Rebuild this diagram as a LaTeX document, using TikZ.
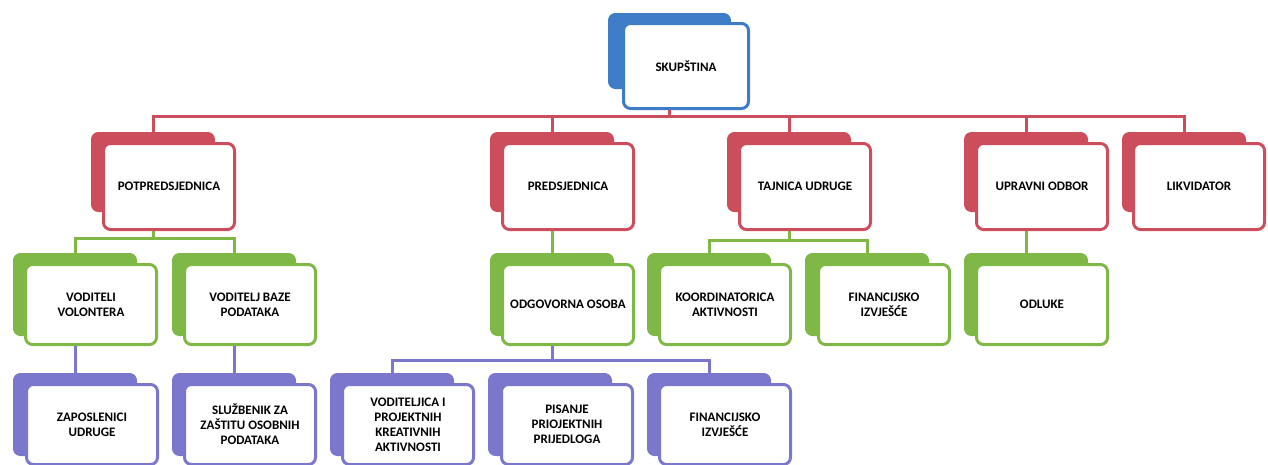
\documentclass[tikz,border=0pt]{standalone}
\usepackage{fontspec}
\setmainfont{Carlito}
\definecolor{cblue}{HTML}{3F7CC8}
\definecolor{cred}{HTML}{CC4E5C}
\definecolor{cgreen}{HTML}{80B848}
\definecolor{cviol}{HTML}{7B77CC}
\tikzset{
  back/.style={fill=#1, draw=#1, line width=1pt, rounded corners=7pt, anchor=north west,
    minimum width=123pt, inner sep=0pt},
  front/.style={fill=white, draw=#1, line width=3pt, rounded corners=7pt, anchor=north west,
    minimum width=131pt, inner sep=2pt, align=center,
    font=\fontsize{13}{15}\selectfont\bfseries},
  hiA/.style={minimum height=79pt},
  hiB/.style={minimum height=82pt},
  fhA/.style={minimum height=86pt},
  fhB/.style={minimum height=80pt},
  conn/.style={draw=#1, line width=3pt},
}
\begin{document}
\begin{tikzpicture}[x=1pt,y=-1pt]
\useasboundingbox (0,0) rectangle (1268,464);
% level 1
\node[back=cblue, minimum width=122pt, minimum height=75pt] (skupB) at (608,13) {};
\node[front=cblue, minimum width=125pt, minimum height=85pt] (skup) at (622,22) {SKUPŠTINA};
% level 2
\node[back=cred, hiA] (potB) at (91,132) {};
\node[front=cred, fhA] (pot) at (102,142) {POTPREDSJEDNICA};
\node[back=cred, hiA] (predB) at (490,132) {};
\node[front=cred, fhA] (pred) at (501,142) {PREDSJEDNICA};
\node[back=cred, hiA] (tajB) at (727,132) {};
\node[front=cred, fhA] (taj) at (738,142) {TAJNICA UDRUGE};
\node[back=cred, hiA] (uprB) at (964,132) {};
\node[front=cred, fhA] (upr) at (975,142) {UPRAVNI ODBOR};
\node[back=cred, hiA] (likB) at (1122,132) {};
\node[front=cred, fhA] (lik) at (1132,142) {LIKVIDATOR};
% level 3
\node[back=cgreen, hiB] (vvB) at (13,253) {};
\node[front=cgreen, fhB] (vv) at (24,263) {VODITELI\\VOLONTERA};
\node[back=cgreen, hiB] (vbB) at (172,253) {};
\node[front=cgreen, fhB] (vb) at (183,263) {VODITELJ BAZE\\PODATAKA};
\node[back=cgreen, hiB] (odgB) at (490,253) {};
\node[front=cgreen, fhB] (odg) at (501,263) {ODGOVORNA OSOBA};
\node[back=cgreen, hiB] (korB) at (647,253) {};
\node[front=cgreen, fhB] (kor) at (658,263) {KOORDINATORICA\\AKTIVNOSTI};
\node[back=cgreen, hiB] (finB) at (805,253) {};
\node[front=cgreen, fhB] (fin) at (817,263) {FINANCIJSKO\\IZVJEŠĆE};
\node[back=cgreen, hiB] (odlB) at (964,253) {};
\node[front=cgreen, fhB] (odl) at (975,263) {ODLUKE};
% level 4
\node[back=cviol, hiB] (zapB) at (13,373) {};
\node[front=cviol, fhB] (zap) at (25,383) {ZAPOSLENICI\\UDRUGE};
\node[back=cviol, hiB] (sluB) at (172,373) {};
\node[front=cviol, fhB] (slu) at (183,383) {SLUŽBENIK ZA\\ZAŠTITU OSOBNIH\\PODATAKA};
\node[back=cviol, hiB] (vojB) at (330,373) {};
\node[front=cviol, fhB] (voj) at (341,383) {VODITELJICA I\\PROJEKTNIH\\KREATIVNIH\\AKTIVNOSTI};
\node[back=cviol, hiB] (pisB) at (488,373) {};
\node[front=cviol, fhB] (pis) at (500,383) {PISANJE\\PRIOJEKTNIH\\PRIJEDLOGA};
\node[back=cviol, hiB] (fi2B) at (647,373) {};
\node[front=cviol, fhB] (fi2) at (658,383) {FINANCIJSKO\\IZVJEŠĆE};
% connectors
\coordinate (rb) at (0,116);
\draw[conn=cred] (skupB |- skup.south) -- (skupB |- rb);
\draw[conn=cred] (potB.north) |- (likB |- rb) -- (likB.north);
\draw[conn=cred] (predB |- rb) -- (predB.north);
\draw[conn=cred] (tajB |- rb) -- (tajB.north);
\draw[conn=cred] (uprB |- rb) -- (uprB.north);
\coordinate (gb1) at (0,238);
\draw[conn=cgreen] (potB |- pot.south) -- (potB |- gb1);
\draw[conn=cgreen] (vvB.north) |- (vbB |- gb1) -- (vbB.north);
\draw[conn=cgreen] (predB |- pred.south) -- (odgB.north);
\coordinate (gb2) at (0,240);
\draw[conn=cgreen] (tajB |- taj.south) -- (tajB |- gb2);
\draw[conn=cgreen] (korB.north) |- (finB |- gb2) -- (finB.north);
\draw[conn=cgreen] (uprB |- upr.south) -- (odlB.north);
\draw[conn=cviol] (vvB |- vv.south) -- (zapB.north);
\draw[conn=cviol] (vbB |- vb.south) -- (sluB.north);
\coordinate (bb) at (0,360);
\draw[conn=cviol] (odgB |- odg.south) -- (odgB |- bb);
\draw[conn=cviol] (vojB.north) |- (fi2B |- bb) -- (fi2B.north);
\end{tikzpicture}
\end{document}
